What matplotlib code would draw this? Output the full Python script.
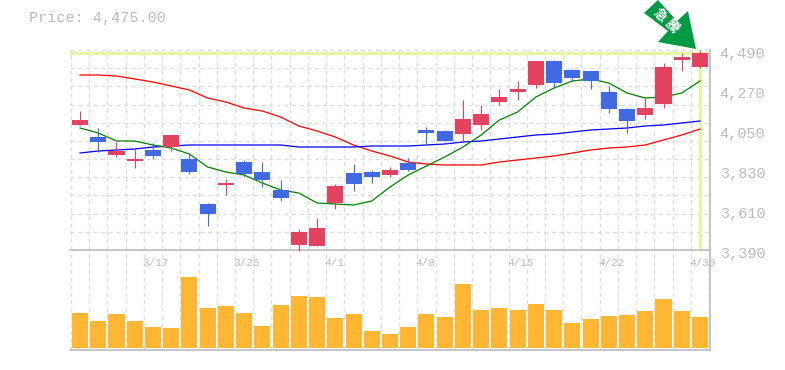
import matplotlib
matplotlib.use('Agg')
import numpy as np
import matplotlib.pyplot as plt
from matplotlib.patches import Polygon

# candles (price units)
opens = [4077.5, 4011.5, 3912.5, 3879.5, 3940, 3956.5, 3890.5, 3643, 3747.5, 3874, 3819, 3720,
         3417.5, 3412, 3648.5, 3813.5, 3819, 3802.5, 3868.5, 4050, 4044.5, 4028, 4077.5, 4204,
         4259, 4297.5, 4429.5, 4380, 4374.5, 4259, 4165.5, 4132.5, 4193, 4435, 4396.5]
closes = [4105, 3984, 3934.5, 3890.5, 3907, 4022.5, 3819, 3588, 3758.5, 3808, 3775, 3676,
          3489, 3511, 3742, 3753, 3791.5, 3830, 3830, 4033.5, 3989.5, 4110.5, 4138, 4231.5,
          4275.5, 4429.5, 4308.5, 4336, 4319.5, 4165.5, 4099.5, 4171, 4396.5, 4451.5, 4475]
highs = [4154.5, 4061, 3984, 3945.5, 3978.5, 4022.5, 3923.5, 3648.5, 3780.5, 3885, 3874, 3775,
         3505.5, 3566, 3753, 3863, 3830, 3846.5, 3896, 4066.5, 4050, 4215, 4187.5, 4275.5,
         4319.5, 4429.5, 4435, 4385.5, 4374.5, 4292, 4171, 4226, 4418.5, 4473.5, 4490]
lows = [4077.5, 3929, 3901.5, 3841, 3890.5, 3934.5, 3808, 3522, 3692.5, 3791.5, 3736.5, 3659.5,
        3384.5, 3412, 3615.5, 3714.5, 3758.5, 3791.5, 3824.5, 3967.5, 3989.5, 3989.5, 4050, 4187.5,
        4215, 4281, 4286.5, 4319.5, 4275.5, 4143.5, 4033.5, 4110.5, 4171, 4374.5, 4391]

ma_short = [4061, 4033.5, 3989.5, 3989.5, 3967.5, 3951, 3918, 3846.5, 3819, 3802.5, 3758.5, 3720,
            3703.5, 3648.5, 3643, 3637.5, 3659.5, 3736.5, 3802.5, 3852, 3901.5, 3956.5, 4022.5, 4105,
            4149, 4231.5, 4281, 4319.5, 4330.5, 4308.5, 4253.5, 4226, 4231.5, 4253.5, 4319.5]
ma_mid = [3923.5, 3934.5, 3940, 3945.5, 3956.5, 3962, 3967.5, 3967.5, 3967.5, 3967.5, 3967.5, 3967.5,
          3956.5, 3956.5, 3956.5, 3956.5, 3962, 3962, 3962, 3967.5, 3973, 3984, 3989.5, 4000.5,
          4011.5, 4022.5, 4028, 4039, 4050, 4055.5, 4061, 4072, 4077.5, 4088.5, 4099.5]
ma_long = [4352.5, 4352.5, 4347, 4330.5, 4314, 4292, 4270, 4226, 4204, 4171, 4154.5, 4121.5,
           4072, 4044.5, 4011.5, 3967.5, 3934.5, 3907, 3874, 3863, 3857.5, 3857.5, 3857.5, 3874,
           3885, 3896, 3907, 3923.5, 3940, 3951, 3956.5, 3967.5, 3995, 4022.5, 4055.5]

volumes = [35, 27, 34, 27, 21, 20, 71, 40, 42, 35, 22, 43, 52, 51, 30, 34, 17, 14,
           21, 34, 31, 64, 38, 40, 38, 44, 38, 25, 29, 32, 33, 37, 49, 37, 31]

date_idx = [4, 9, 14, 19, 24, 29, 34]
date_labels = ['3/17', '3/25', '4/1', '4/8', '4/15', '4/22', '4/30']
price_ticks = [3390, 3610, 3830, 4050, 4270, 4490]
last_price = 4475

RED = '#e4435f'
BLUE = '#4169e1'
GRAY = '#bbbbbb'
GRID = '#dddddd'
MONO = 'Liberation Mono'

W, H = 785, 370
fig = plt.figure(figsize=(W / 100, H / 100), dpi=100)
ax = fig.add_axes([70 / W, 1 - 250 / H, 640 / W, 200 / H])
ax2 = fig.add_axes([70 / W, 1 - 350 / H, 640 / W, 100 / H])

x = np.arange(len(closes))
xlim = (-0.55, 34.55)
grid_x = np.arange(-0.5, 35)

for a in (ax, ax2):
    a.set_xlim(xlim)
    a.set_xticks(grid_x)
    a.grid(True, color=GRID, ls=(0, (3, 2.5)), lw=1)
    a.set_axisbelow(True)
    a.tick_params(length=0, labelbottom=False, labelleft=False)
    a.patch.set_alpha(0)
    a.spines['left'].set_visible(False)
    a.spines['top'].set_visible(False)
    a.spines['right'].set_color(GRAY)
    a.spines['bottom'].set_color(GRAY)
    a.spines['right'].set_linewidth(1.2)
    a.spines['bottom'].set_linewidth(1.2)

# price panel
ax.set_ylim(3390, 4490)
ax.set_yticks(np.arange(3390, 4491, 100))

ax.axhline(last_price, color='#e4f5a8', lw=2.4, zorder=1.5)
ax.axvline(x[-1], color='#e4f5a8', lw=2.4, zorder=1.5)

ax.plot(x, ma_long, color='red', lw=0.9, zorder=2)
ax.plot(x, ma_mid, color='blue', lw=0.9, zorder=2)
ax.plot(x, ma_short, color='green', lw=0.9, zorder=2)

for i in x:
    col = RED if closes[i] >= opens[i] else BLUE
    ax.vlines(i, lows[i], highs[i], color=col, lw=0.8, zorder=3, clip_on=False)
    ax.bar(i, closes[i] - opens[i], bottom=opens[i], width=0.88, color=col, zorder=3,
           antialiased=False)

for t in price_ticks:
    ax.annotate(f'{t:,}', (1, t), xycoords=('axes fraction', 'data'), xytext=(7, -3),
                textcoords='offset points', ha='left', va='center',
                family=MONO, fontsize=11, color=GRAY, annotation_clip=False)

# volume panel
ax2.bar(x, volumes, width=0.88, color='#ffb733', zorder=3, antialiased=False)
ax2.set_ylim(-2, 98)
ax2.set_yticks([])
for i, lab in zip(date_idx, date_labels):
    ax2.annotate(lab, (i, 1), xycoords=('data', 'axes fraction'), xytext=(-7.6, -9),
                 textcoords='offset points', ha='left', va='center',
                 family=MONO, fontsize=8, color=GRAY, annotation_clip=False)

fig.text(29 / W, 1 - 18 / H, f'Price: {last_price:,.2f}', family=MONO, fontsize=10.9,
         color=GRAY, ha='left', va='center')

# green arrow, placed in figure pixels
arrow = np.array([[644, 13], [658, 0], [677, 21], [688, 11], [696, 49], [658, 42], [668, 31]], float)
arrow[:, 0] /= W
arrow[:, 1] = 1 - arrow[:, 1] / H
fig.add_artist(Polygon(arrow, closed=True, transform=fig.transFigure, color='#009944', zorder=5, lw=0))
fig.text(660 / W, 1 - 15 / H, '急', family=['Noto Sans CJK JP', 'DejaVu Sans'], fontsize=9.5,
         fontweight='bold', color='white', rotation=-45, ha='center', va='center', zorder=6)
fig.text(671.5 / W, 1 - 26 / H, '騰', family=['Noto Sans CJK JP', 'DejaVu Sans'], fontsize=9.5,
         fontweight='bold', color='white', rotation=-45, ha='center', va='center', zorder=6)

fig.savefig('out.png', dpi=100)
